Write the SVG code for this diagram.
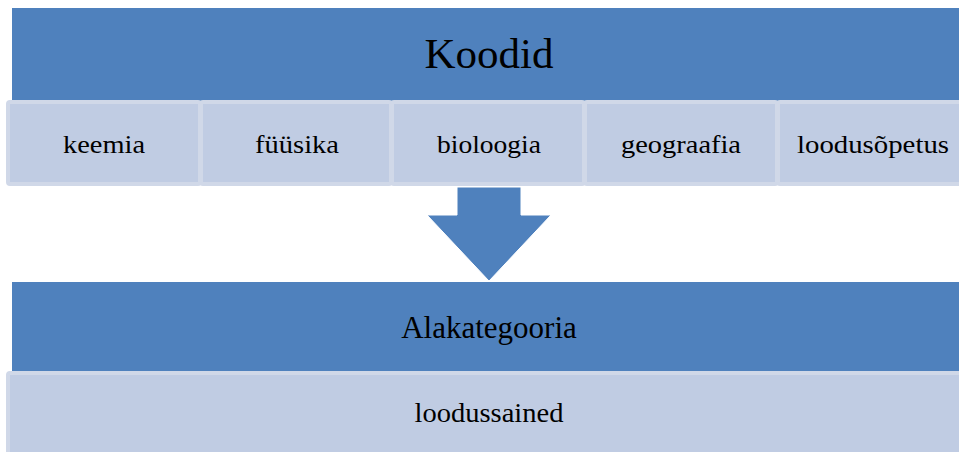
<svg xmlns="http://www.w3.org/2000/svg" width="959" height="452" viewBox="0 0 959 452">
<style>
.band{fill:#4f81bd;}
.cell{fill:#c0cce3;stroke:#d0d8e8;stroke-width:4;}
.t{font-family:"Liberation Serif","Times New Roman",serif;fill:#000;text-anchor:middle;}
.s{font-size:26px;}
</style>
<rect width="959" height="452" fill="#ffffff"/>
<g id="koodid">
<rect class="band" x="12" y="8" width="947" height="93"/>
<text class="t" x="489" y="68" font-size="43">Koodid</text>
</g>
<g id="keemia">
<rect class="cell" x="8" y="102" width="192" height="82" rx="2"/>
<text class="t s" x="104" y="153" textLength="82" lengthAdjust="spacingAndGlyphs">keemia</text>
</g>
<g id="fuusika">
<rect class="cell" x="201" y="102" width="190" height="82" rx="2"/>
<text class="t s" x="297" y="153" textLength="84" lengthAdjust="spacingAndGlyphs">füüsika</text>
</g>
<g id="bioloogia">
<rect class="cell" x="392" y="102" width="192" height="82" rx="2"/>
<text class="t s" x="489" y="153" textLength="104" lengthAdjust="spacingAndGlyphs">bioloogia</text>
</g>
<g id="geograafia">
<rect class="cell" x="585" y="102" width="192" height="82" rx="2"/>
<text class="t s" x="681" y="153" textLength="120" lengthAdjust="spacingAndGlyphs">geograafia</text>
</g>
<g id="loodusopetus">
<rect class="cell" x="778" y="102" width="190" height="82" rx="2"/>
<text class="t s" x="873" y="153" textLength="152" lengthAdjust="spacingAndGlyphs">loodusõpetus</text>
</g>
<g id="connectors">
<polygon points="457,187 521,187 521,215 551,215 489,281 427,215 457,215" fill="#4f81bd" stroke="#ffffff" stroke-width="1"/>
</g>
<g id="alakategooria">
<rect class="band" x="12" y="282" width="947" height="89"/>
<text class="t" x="489" y="338" font-size="31">Alakategooria</text>
</g>
<g id="loodussained">
<rect class="cell" x="8" y="373" width="960" height="90" rx="2"/>
<text class="t" x="489" y="422" font-size="27" textLength="149" lengthAdjust="spacingAndGlyphs">loodussained</text>
</g>
</svg>
